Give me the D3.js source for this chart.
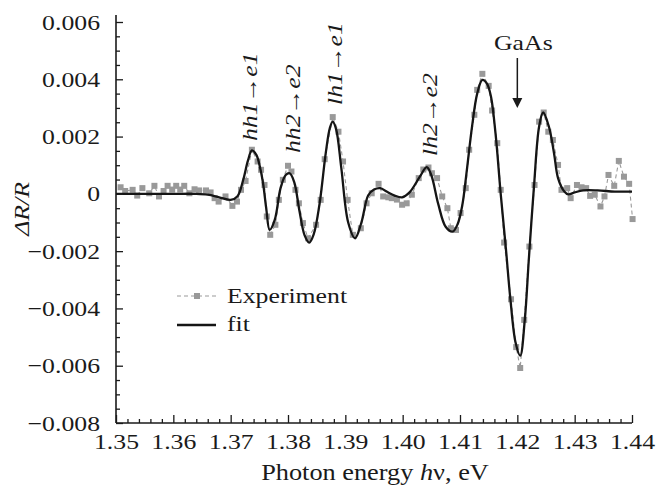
<!DOCTYPE html>
<html><head><meta charset="utf-8">
<script src="https://cdn.jsdelivr.net/npm/d3@7"></script>
<style>
body{margin:0;background:#fff}
svg{display:block}
text{font-family:"Liberation Serif","Times New Roman",serif;fill:#1a1a1a}
</style>
</head><body>
<svg id="c" width="658" height="488"></svg>
<script>
// ---- data ----
const expEnergy = [1.3508,1.3516,1.3529,1.3537,1.3546,1.3558,1.3567,1.3575,1.3583,1.3590,1.3598,1.3605,1.3612,1.3619,1.3628,1.3637,1.3645,1.3657,1.3665,1.3672,1.3679,1.3691,1.3703,1.3711,1.3718,1.3726,1.3737,1.3747,1.3753,1.3759,1.3763,1.3769,1.3778,1.3784,1.3791,1.3800,1.3806,1.3813,1.3819,1.3826,1.3835,1.3849,1.3857,1.3864,1.3878,1.3888,1.3896,1.3904,1.3913,1.3927,1.3937,1.3946,1.3958,1.3966,1.3975,1.3981,1.3990,1.3999,1.4007,1.4016,1.4028,1.4036,1.4045,1.4051,1.4060,1.4069,1.4078,1.4084,1.4093,1.4101,1.4110,1.4116,1.4125,1.4130,1.4139,1.4150,1.4156,1.4165,1.4171,1.4177,1.4189,1.4198,1.4205,1.4212,1.4221,1.4230,1.4238,1.4246,1.4254,1.4262,1.4271,1.4277,1.4287,1.4293,1.4304,1.4312,1.4320,1.4327,1.4335,1.4345,1.4352,1.4359,1.4369,1.4377,1.4386,1.4395,1.4401];
const expValues = [0.00023,0.00010,0.00014,-0.00006,0.00020,0.00002,0.00028,-0.00009,0.00010,0.00028,0.00015,0.00028,0.00015,0.00028,0.00002,0.00016,0.00012,0.00012,0.00005,-0.00015,-0.00027,-0.00009,-0.00042,-0.00027,0.00014,0.00045,0.00154,0.00113,0.00084,0.00031,-0.00079,-0.00143,-0.00108,-0.00021,0.00049,0.00098,0.00078,0.00014,-0.00033,-0.00102,-0.00155,-0.00108,-0.00021,0.00121,0.00268,0.00217,0.00113,-0.00021,-0.00143,-0.00120,-0.00033,0.00002,0.00035,-0.00009,-0.00012,-0.00015,-0.00020,-0.00038,-0.00033,-0.00003,0.00055,0.00085,0.00092,0.00072,0.00055,-0.00009,-0.00050,-0.00120,-0.00126,-0.00067,0.00020,0.00154,0.00276,0.00363,0.00419,0.00377,0.00291,0.00177,0.00014,-0.00170,-0.00368,-0.00535,-0.00608,-0.00440,-0.00184,0.00031,0.00252,0.00284,0.00217,0.00188,0.00101,0.00014,0.00020,-0.00015,0.00031,0.00023,0.00020,-0.00007,-0.00003,-0.00044,-0.00009,0.00066,0.00028,0.00115,0.00060,0.00035,-0.00088];

const fitEnergy = [1.3500,1.3550,1.3600,1.3640,1.3660,1.3680,1.3700,1.3712,1.3722,1.3730,1.3737,1.3745,1.3752,1.3757,1.3762,1.3768,1.3777,1.3787,1.3796,1.3803,1.3811,1.3820,1.3829,1.3837,1.3845,1.3855,1.3866,1.3873,1.3878,1.3884,1.3893,1.3905,1.3917,1.3928,1.3940,1.3950,1.3961,1.3972,1.3986,1.3999,1.4012,1.4030,1.4042,1.4050,1.4062,1.4075,1.4087,1.4096,1.4104,1.4112,1.4121,1.4130,1.4139,1.4147,1.4154,1.4162,1.4171,1.4180,1.4188,1.4197,1.4205,1.4213,1.4220,1.4229,1.4238,1.4245,1.4255,1.4264,1.4271,1.4282,1.4289,1.4300,1.4315,1.4340,1.4370,1.4400];
const fitValues = [0,0,0,0,-0.00003,-0.00012,-0.00021,-0.00008,0.00050,0.00115,0.00152,0.00135,0.00085,0.00030,-0.00050,-0.00126,-0.00090,0.00020,0.00066,0.00072,0.00040,-0.00060,-0.00145,-0.00170,-0.00140,-0.00035,0.00145,0.00230,0.00252,0.00225,0.00090,-0.00100,-0.00155,-0.00100,-0.00005,0.00015,0.00020,0.00008,-0.00006,-0.00012,0.00005,0.00060,0.00093,0.00065,-0.00035,-0.00115,-0.00132,-0.00105,-0.00040,0.00084,0.00235,0.00350,0.00398,0.00385,0.00340,0.00210,0.00000,-0.00190,-0.00370,-0.00520,-0.00565,-0.00440,-0.00230,0.00025,0.00235,0.00284,0.00235,0.00142,0.00055,0.00008,-0.00002,0.00005,0.00012,0.00012,0.00008,0.00008];

const xMajorTicks = [1.35,1.36,1.37,1.38,1.39,1.40,1.41,1.42,1.43,1.44];
const xTickLabels = ["1.35","1.36","1.37","1.38","1.39","1.40","1.41","1.42","1.43","1.44"];
const yMajorTicks = [0.006,0.004,0.002,0,-0.002,-0.004,-0.006,-0.008];
const yTickLabels = ["0.006","0.004","0.002","0","\u22120.002","\u22120.004","\u22120.006","\u22120.008"];
const transitions = ["hh1\u2192e1","hh2\u2192e2","lh1\u2192e1","lh2\u2192e2"];
const legendLabels = ["Experiment","fit"];

// ---- chart ----
const SX = 1.17;   // horizontal stretch of the lettering
const FS = 22;
const svg = d3.select("#c");
const x = d3.scaleLinear().domain([1.35,1.44]).range([116,632]);
const y = d3.scaleLinear().domain([-0.008,0.006]).range([423,22]);

const xMinor = d3.range(0,46).map(i => 1.35 + i*0.002).filter(v => !xMajorTicks.some(t => Math.abs(t-v)<1e-9));
const yMinor = d3.range(0,29).map(i => -0.008 + i*0.0005).filter(v => !yMajorTicks.some(t => Math.abs(t-v)<1e-9));

// experiment dashed line + squares
const expData = expEnergy.map((e,i)=>({e, v: expValues[i]}));
svg.append("path").datum(expData)
  .attr("fill","none").attr("stroke","#9a9a9a").attr("stroke-width",1.1)
  .attr("stroke-dasharray","4,3")
  .attr("d", d3.line().x(d=>x(d.e)).y(d=>y(d.v)));
svg.append("g").selectAll("rect").data(expData).join("rect")
  .attr("x", d=>x(d.e)-3).attr("y", d=>y(d.v)-3)
  .attr("width",6).attr("height",6).attr("fill","#999");

// fit line
const fitData = fitEnergy.map((e,i)=>({e, v: fitValues[i]}));
svg.append("path").datum(fitData)
  .attr("fill","none").attr("stroke","#151515").attr("stroke-width",2.3)
  .attr("stroke-linejoin","round")
  .attr("d", d3.line().x(d=>x(d.e)).y(d=>y(d.v)).curve(d3.curveCatmullRom.alpha(0.5)));

// axes
const gx = svg.append("g").attr("transform","translate(0,423)");
gx.call(d3.axisBottom(x).tickValues(xMajorTicks).tickSize(-8).tickSizeOuter(0).tickPadding(10)
  .tickFormat((d,i)=>xTickLabels[i]));
gx.select(".domain").remove();
gx.selectAll("text").attr("font-size",FS).attr("font-family",'"Liberation Serif",serif').attr("fill","#1a1a1a")
  .attr("transform",`scale(${SX},1)`);
const gxm = svg.append("g").attr("transform","translate(0,423)");
gxm.call(d3.axisBottom(x).tickValues(xMinor).tickSize(-4).tickFormat(""));
gxm.select(".domain").remove();

const gy = svg.append("g").attr("transform","translate(116,0)");
gy.call(d3.axisLeft(y).tickValues(yMajorTicks).tickSize(-7).tickSizeOuter(0).tickPadding(15)
  .tickFormat((d,i)=>yTickLabels[i]));
gy.select(".domain").remove();
gy.selectAll("text").attr("font-size",FS).attr("font-family",'"Liberation Serif",serif').attr("fill","#1a1a1a")
  .attr("x",-16/SX).attr("transform",`scale(${SX},1)`);
const gym = svg.append("g").attr("transform","translate(116,0)");
gym.call(d3.axisLeft(y).tickValues(yMinor).tickSize(-4).tickFormat(""));
gym.select(".domain").remove();
svg.selectAll(".tick line").attr("stroke","#1a1a1a").attr("stroke-width",1.3);

// axis lines
svg.append("line").attr("x1",116).attr("x2",116).attr("y1",y.range()[1]-7).attr("y2",y.range()[0])
  .attr("stroke","#1a1a1a").attr("stroke-width",1.6);
svg.append("line").attr("x1",x.range()[0]).attr("x2",x.range()[1]).attr("y1",423).attr("y2",423)
  .attr("stroke","#1a1a1a").attr("stroke-width",1.6);

// axis titles
const xt = svg.append("text").attr("transform",`translate(375,480) scale(${SX},1)`)
  .attr("text-anchor","middle").attr("font-size",FS+0.5);
xt.append("tspan").text("Photon energy ");
xt.append("tspan").attr("font-style","italic").text("h");
xt.append("tspan").text("\u03BD, eV");
svg.append("text").attr("transform",`translate(29,209) rotate(-90) scale(${SX},1)`).attr("text-anchor","middle")
  .attr("font-size",FS).attr("font-style","italic").text("\u0394R/R");

// transition annotations
const annPos = [[257,141],[300,153],[342,105],[437,156]];
transitions.forEach((t,i)=>{
  svg.append("text").attr("transform",`translate(${annPos[i][0]},${annPos[i][1]}) rotate(-90) scale(${SX},1)`)
    .attr("font-size",FS).attr("font-style","italic").text(t);
});

// GaAs arrow
svg.append("text").attr("transform",`translate(${x(1.42)+6},50) scale(${SX},1)`)
  .attr("text-anchor","middle").attr("font-size",FS).text("GaAs");
svg.append("line").attr("x1",x(1.42)).attr("x2",x(1.42)).attr("y1",58).attr("y2",99)
  .attr("stroke","#1a1a1a").attr("stroke-width",1.5);
svg.append("path").attr("d",`M${x(1.42)-5},98 L${x(1.42)+5},98 L${x(1.42)},108 Z`).attr("fill","#1a1a1a");

// legend
const lg = svg.append("g");
lg.append("line").attr("x1",177).attr("x2",217).attr("y1",296).attr("y2",296)
  .attr("stroke","#9a9a9a").attr("stroke-width",1.1).attr("stroke-dasharray","4,3");
lg.append("rect").attr("x",194).attr("y",293).attr("width",6).attr("height",6).attr("fill","#999");
lg.append("text").attr("transform",`translate(227,303) scale(${SX},1)`).attr("font-size",FS).text(legendLabels[0]);
lg.append("line").attr("x1",177).attr("x2",216).attr("y1",325).attr("y2",325)
  .attr("stroke","#151515").attr("stroke-width",2.3);
lg.append("text").attr("transform",`translate(227,331) scale(${SX},1)`).attr("font-size",FS).text(legendLabels[1]);
</script>
</body></html>
